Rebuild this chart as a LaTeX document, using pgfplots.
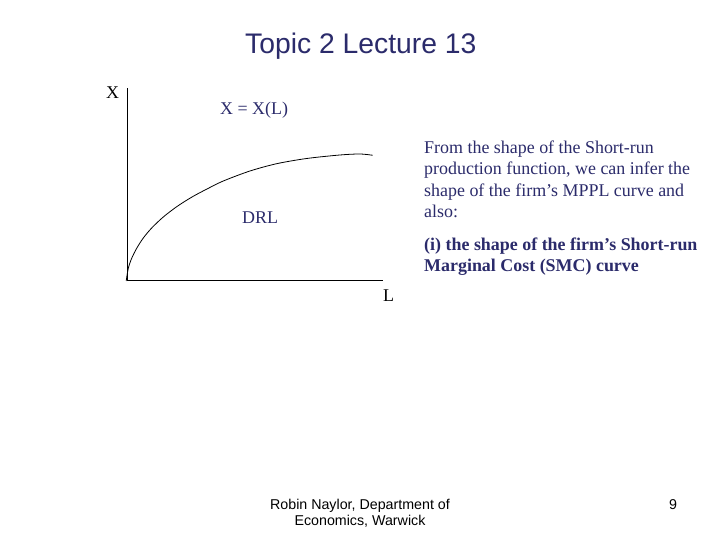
\documentclass[border=0pt]{standalone}
\usepackage{pgfplots}
\pgfplotsset{compat=1.18}
\usepackage{fontspec}
\setmainfont{Liberation Serif}
\newfontfamily\arial{Liberation Sans}
\definecolor{navy}{rgb}{0.17,0.17,0.42}
\begin{document}
\begin{tikzpicture}[x=1bp,y=1bp]
\path[fill=white] (0,0) rectangle (720,540);
\begin{axis}[
  at={(127bp,259bp)}, anchor=south west,
  scale only axis, width=256bp, height=193bp,
  xmin=0, xmax=256, ymin=0, ymax=193,
  axis x line=bottom, axis y line=left,
  axis line style={-, black, line width=1pt},
  xtick=\empty, ytick=\empty,
  clip=false,
]
\addplot[black, line width=0.8pt, smooth, tension=0.5] coordinates {
(-0.8,0) (1.3,12.7) (4.7,22.7) (9.7,32.7) (16.3,43) (24.7,53) (36.3,64)
(50,74.5) (65,84) (80,92) (96.3,100) (123,110) (149.7,117.3) (179.7,122.5)
(213,126) (233,127) (245.7,125.7)
};
\end{axis}
\node[anchor=base west, font=\arial\fontsize{28.4}{32}\selectfont, text=navy, inner sep=0] at (245,486.5) {Topic 2 Lecture 13};
\node[anchor=base west, font=\fontsize{18}{20}\selectfont, inner sep=0] at (106,441.7) {X};
\node[anchor=base west, font=\fontsize{18}{20}\selectfont, inner sep=0] at (383,238.3) {L};
\node[anchor=base west, font=\fontsize{18}{20}\selectfont, text=navy, inner sep=0] at (220,425.7) {X = X(L)};
\node[anchor=base west, font=\fontsize{18}{20}\selectfont, text=navy, inner sep=0] at (242,316.7) {DRL};
\begin{scope}[every node/.style={anchor=base west, font=\fontsize{18}{20}\selectfont, text=navy, inner sep=0}]
\node at (424,386.7) {From the shape of the Short-run};
\node at (424,365) {production function, we can infer the};
\node at (424,343.3) {shape of the firm’s MPPL curve and};
\node at (424,322.7) {also:};
\node[font=\bfseries\fontsize{18}{20}\selectfont] at (424,289.3) {(i) the shape of the firm’s Short-run};
\node[font=\bfseries\fontsize{18}{20}\selectfont] at (424,268.3) {Marginal Cost (SMC) curve};
\end{scope}
\begin{scope}[every node/.style={anchor=base, font=\arial\fontsize{14.3}{17}\selectfont, inner sep=0}]
\node at (360,30) {Robin Naylor, Department of};
\node at (360,14) {Economics, Warwick};
\node at (673,30) {9};
\end{scope}
\end{tikzpicture}
\end{document}
